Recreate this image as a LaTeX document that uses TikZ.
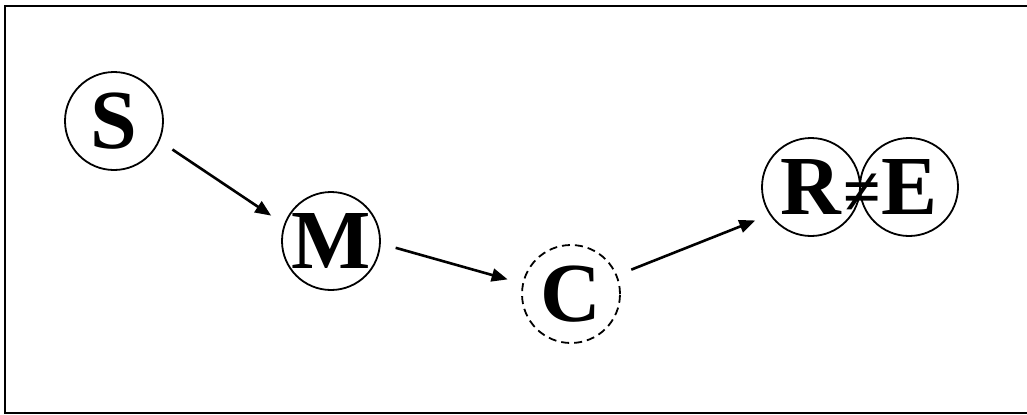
\documentclass[tikz,border=0pt]{standalone}
\usepackage{fontspec}
\setmainfont{Liberation Serif}
\usetikzlibrary{arrows.meta}

\begin{document}
\begin{tikzpicture}[x=0.5pt,y=-0.5pt,
    state/.style={circle,draw,line width=0.9pt,minimum size=49pt,inner sep=0pt,
      outer sep=8pt,font=\fontsize{42}{50}\selectfont\bfseries},
    hidden/.style={state,dashed,dash pattern=on 4pt off 2.5pt},
    link/.style={draw,line width=1.3pt,-{Triangle[length=8pt,width=6.5pt]}}]
  \useasboundingbox (0,0) rectangle (1027,414);
  \path[draw,line width=1pt] (5,6) rectangle (1040,412.5);
  % states
  \node[state] (S) at (114,121) {S};
  \node[state] (M) at (331,241) {M};
  \node[hidden] (C) at (571,294) {C};
  \node[state] (R) at (811,187) {R};
  \node[state] (E) at (909,187) {E};
  \node[anchor=base,inner sep=0pt,font=\fontsize{34}{40}\selectfont\bfseries]
    (ne) at (862,0 |- R.base) {≠};
  % arrows
  \path[link] (S.-26) -- (M.157);
  \path[link] (M.-6) -- (C.167);
  \path[link] (C.22) -- (R.211);
\end{tikzpicture}
\end{document}
